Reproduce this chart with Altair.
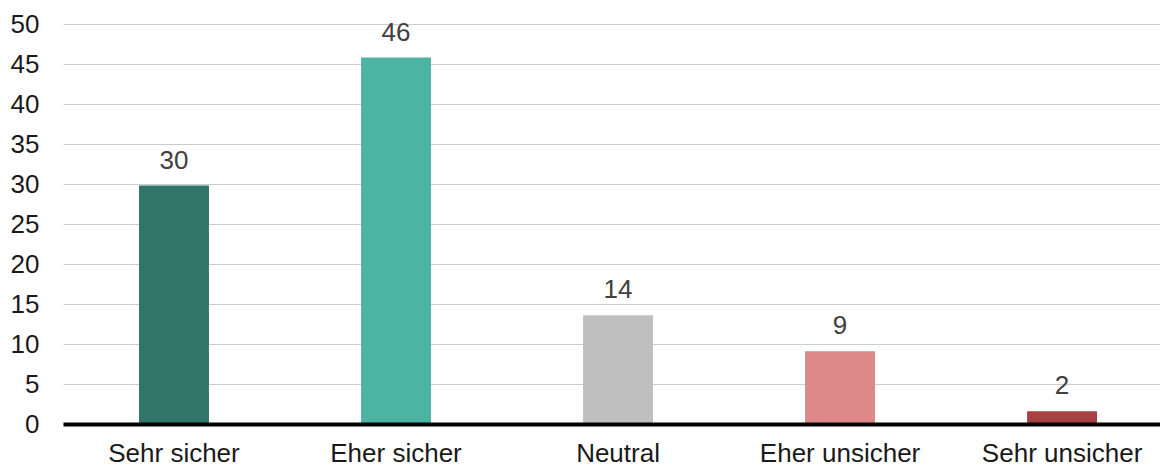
import altair as alt
import pandas as pd

categories = ["Sehr sicher", "Eher sicher", "Neutral", "Eher unsicher", "Sehr unsicher"]
values = [29.8, 45.8, 13.6, 9.1, 1.6]
colors = ["#30756a", "#4db3a2", "#bfbfbf", "#dd8989", "#a54141"]
y_ticks = [0, 5, 10, 15, 20, 25, 30, 35, 40, 45, 50]

df = pd.DataFrame({"Kategorie": categories, "Wert": values, "Farbe": colors})

FONT = "Liberation Sans"

x_enc = alt.X(
    "Kategorie:N",
    sort=categories,
    scale=alt.Scale(paddingInner=0.685, paddingOuter=0.313, align=0.547),
    axis=alt.Axis(
        title=None, labelAngle=0, ticks=False, grid=False,
        domainColor="#000000", domainWidth=4,
        labelFontSize=26, labelColor="#1a1a1a", labelPadding=16,
        labelFont=FONT, zindex=1,
    ),
)
y_enc = alt.Y(
    "Wert:Q",
    scale=alt.Scale(domain=[0, 50]),
    axis=alt.Axis(
        title=None, values=y_ticks, ticks=False, domain=False,
        gridColor="#cccccc", gridWidth=1,
        labelFontSize=26, labelPadding=24, labelColor="#1a1a1a",
        labelFont=FONT,
    ),
)

bars = alt.Chart(df).mark_bar().encode(
    x=x_enc, y=y_enc, color=alt.Color("Farbe:N", scale=None)
)
labels = alt.Chart(df).mark_text(
    dy=-17, baseline="alphabetic", fontSize=26, color="#404040", font=FONT
).encode(x=x_enc, y=y_enc, text=alt.Text("Wert:Q", format=".0f"))

chart = (
    alt.layer(bars, labels)
    .properties(
        width=1097,
        height=400,
        autosize=alt.AutoSizeParams(type="none"),
        padding={"left": 55, "top": 16, "right": 0, "bottom": 42},
    )
    .configure_view(stroke=None)
)

chart.save("out.html", embed_options={"renderer": "svg", "actions": False})
